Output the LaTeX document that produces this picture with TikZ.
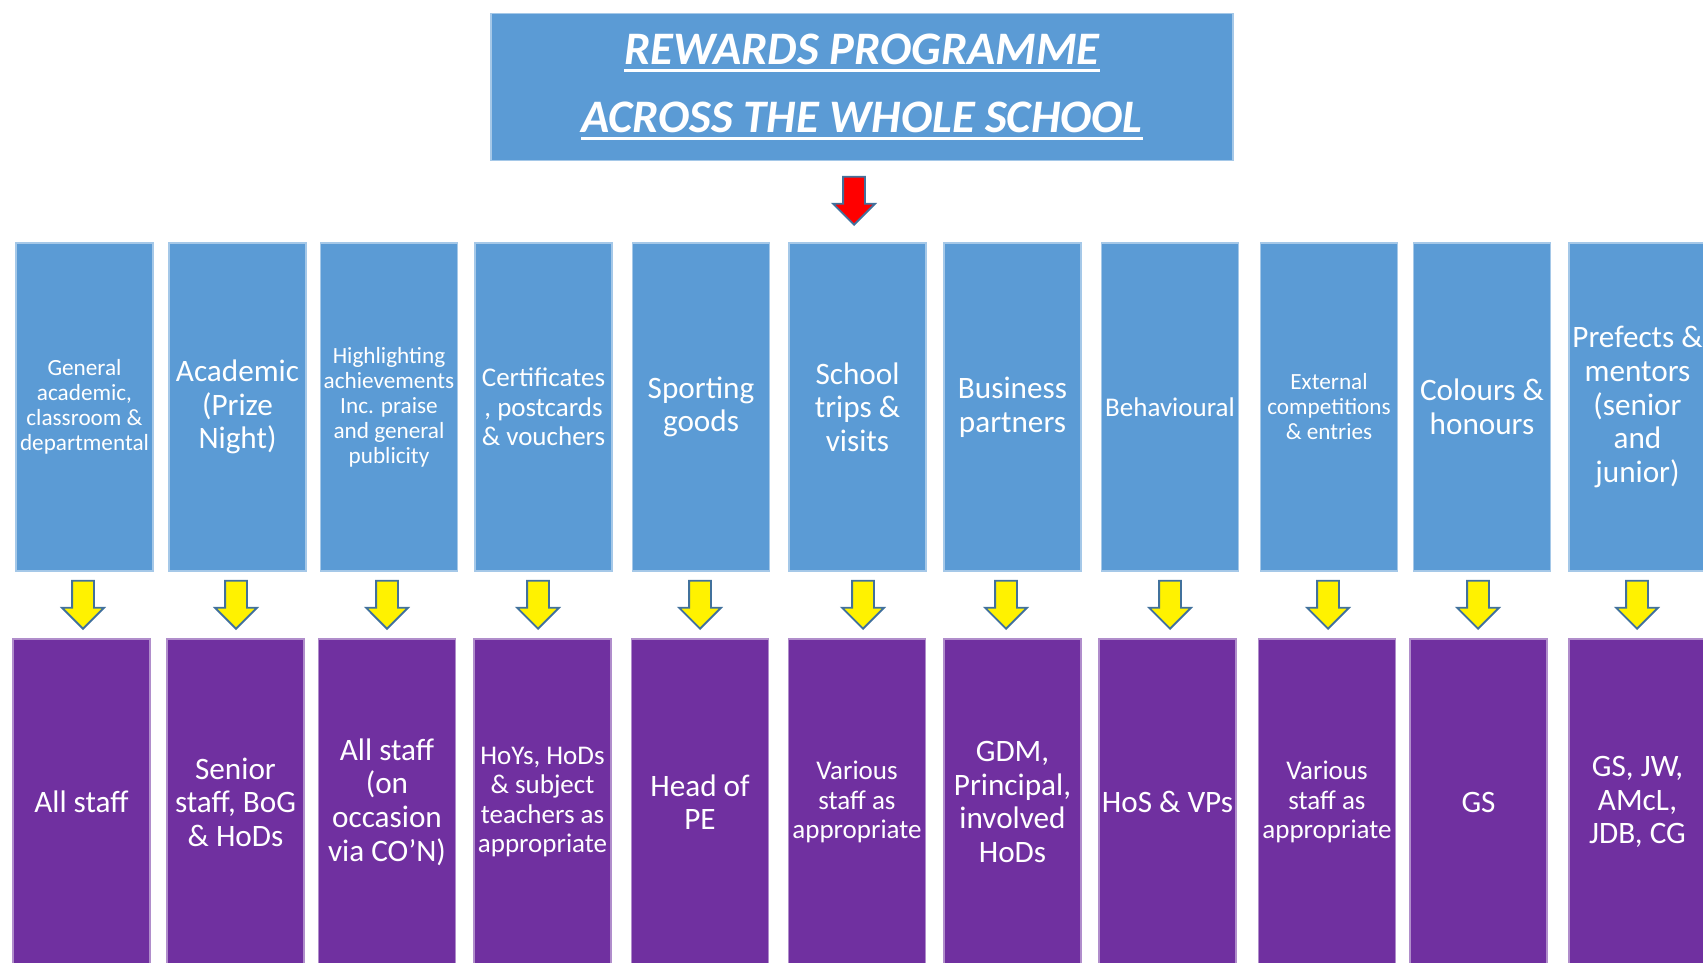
\documentclass[tikz,border=0pt]{standalone}
\usepackage{fontspec}
\setmainfont{Carlito}
\usetikzlibrary{shapes.arrows}

\definecolor{rewardblue}{HTML}{5B9BD5}
\definecolor{staffpurple}{HTML}{7030A0}
\definecolor{arrowedge}{HTML}{41719C}

\newcommand{\smalltxt}{\fontsize{11.6}{12.5}\selectfont}
\newcommand{\midtxt}{\fontsize{13.5}{14.7}\selectfont}
\newcommand{\bigtxt}{\fontsize{15.6}{16.8}\selectfont}
\newsavebox{\titlebox}
\newcommand{\titleul}[1]{\sbox{\titlebox}{#1}\rlap{\rule[-4pt]{\wd\titlebox}{1.6pt}}\usebox{\titlebox}}

\tikzset{
  rewardbox/.style={rectangle, fill=rewardblue, draw=rewardblue!55!white, line width=0.6pt,
    minimum width=68.5pt, minimum height=164pt, inner sep=0pt, text=white, align=center},
  staffbox/.style={rectangle, fill=staffpurple, draw=staffpurple!55!white, line width=0.6pt,
    minimum width=68.5pt, minimum height=163pt, inner sep=0pt, text=white, align=center},
  downarrow/.style={single arrow, rotate=-90, anchor=tip, draw=arrowedge, line width=0.9pt,
    minimum height=24pt, inner xsep=0pt, inner ysep=5pt, single arrow head extend=5pt},
}

\begin{document}
\begin{tikzpicture}[x=0.5pt, y=-0.5pt]
  \path[use as bounding box, fill=white] (0,0) rectangle (1703,963);

  % title and main arrow
  \node[rectangle, fill=rewardblue, draw=rewardblue!55!white, line width=0.6pt,
    minimum width=371pt, minimum height=73.5pt, text=white, align=center,
    font=\fontsize{23.3}{34}\selectfont\bfseries\itshape] (title) at (862,87)
    {\titleul{REWARDS PROGRAMME}\\\titleul{ACROSS THE WHOLE SCHOOL}};
  \node[downarrow, fill=red] (start) at (854,226) {};

  % reward types
  \node[rewardbox, font=\smalltxt] (reward1) at (84.5,407) {General\\academic,\\classroom \&\\departmental};
  \node[rewardbox, font=\bigtxt] (reward2) at (237.5,407) {Academic\\(Prize\\Night)};
  \node[rewardbox, font=\smalltxt] (reward3) at (389,407) {Highlighting\\achievements\\Inc. praise\\and general\\publicity};
  \node[rewardbox, font=\midtxt] (reward4) at (543.5,407) {Certificates\\, postcards\\\& vouchers};
  \node[rewardbox, font=\bigtxt] (reward5) at (701,407) {Sporting\\goods};
  \node[rewardbox, font=\bigtxt] (reward6) at (857.5,407) {School\\trips \&\\visits};
  \node[rewardbox, font=\bigtxt] (reward7) at (1012.5,407) {Business\\partners};
  \node[rewardbox, font=\midtxt] (reward8) at (1170,407) {Behavioural};
  \node[rewardbox, font=\smalltxt] (reward9) at (1329,407) {External\\competitions\\\& entries};
  \node[rewardbox, font=\bigtxt] (reward10) at (1482,407) {Colours \&\\honours};
  \node[rewardbox, font=\bigtxt] (reward11) at (1637.5,407) {Prefects \&\\mentors\\(senior\\and\\junior)};

  % who gives them
  \node[staffbox, font=\bigtxt] (staff1) at (81.5,802) {All staff};
  \node[staffbox, font=\bigtxt] (staff2) at (235.5,802) {Senior\\staff, BoG\\\& HoDs};
  \node[staffbox, font=\bigtxt] (staff3) at (387,802) {All staff\\(on\\occasion\\via CO’N)};
  \node[staffbox, font=\midtxt] (staff4) at (542.5,802) {HoYs, HoDs\\\& subject\\teachers as\\appropriate};
  \node[staffbox, font=\bigtxt] (staff5) at (700,802) {Head of\\PE};
  \node[staffbox, font=\midtxt] (staff6) at (857,802) {Various\\staff as\\appropriate};
  \node[staffbox, font=\bigtxt] (staff7) at (1012.5,802) {GDM,\\Principal,\\involved\\HoDs};
  \node[staffbox, font=\bigtxt] (staff8) at (1167.5,802) {HoS \& VPs};
  \node[staffbox, font=\midtxt] (staff9) at (1327,802) {Various\\staff as\\appropriate};
  \node[staffbox, font=\bigtxt] (staff10) at (1478.5,802) {GS};
  \node[staffbox, font=\bigtxt] (staff11) at (1637.5,802) {GS, JW,\\AMcL,\\JDB, CG};

  % yellow arrows
  \foreach \x [count=\i] in {83,236,387,538,700,863,1006,1170,1328,1478,1637}
    \node[downarrow, fill=yellow] (arrow\i) at (\x,630) {};
\end{tikzpicture}
\end{document}
